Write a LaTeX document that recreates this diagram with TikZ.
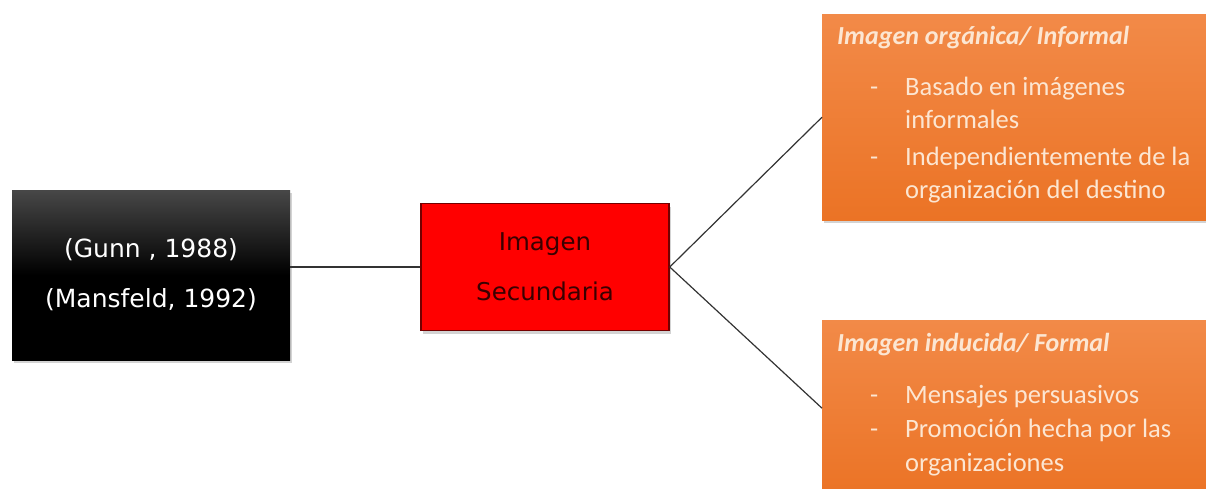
\documentclass[tikz,border=0pt]{standalone}
\usepackage{fontspec}
\setmainfont{Carlito}
\newfontfamily\handfont{DejaVu Sans}
\usetikzlibrary{positioning, shadows}

\definecolor{orangetop}{HTML}{F28A48}
\definecolor{orangebot}{HTML}{EB7325}
\definecolor{creamtext}{HTML}{FCE6D2}
\definecolor{redtext}{HTML}{3A0000}

\begin{document}
\begin{tikzpicture}[x=1pt, y=-1pt,
  shadowed/.style={drop shadow={opacity=.35, shadow xshift=2pt, shadow yshift=-3pt}},
  blackbox/.style={shadowed, rectangle, top color=black!72, bottom color=black, middle color=black,
    minimum width=278pt, minimum height=170pt, text=white, align=center,
    font=\handfont\fontsize{25}{50}\selectfont},
  redbox/.style={shadowed, rectangle, fill=red, draw=red!45!black, line width=1.5pt,
    minimum width=248pt, minimum height=127pt, text=redtext, align=center,
    font=\handfont\fontsize{24.5}{50}\selectfont},
  orangebox/.style={shadowed, rectangle, top color=orangetop, bottom color=orangebot,
    minimum width=400pt, anchor=north west, inner sep=0pt},
  boxtitle/.style={anchor=base west, inner sep=0pt, text=creamtext,
    font=\fontsize{26}{30}\selectfont\bfseries\itshape},
  boxline/.style={anchor=base west, inner sep=0pt, text=creamtext,
    font=\fontsize{26.5}{32}\selectfont},
  link/.style={draw=black!80, line width=1.2pt}]

  \useasboundingbox (0,0) rectangle (1206,488);
  \clip (0,0) rectangle (1206,488);

  % left and middle boxes
  \node[blackbox] (refs) at (151,275) {(Gunn , 1988)\\(Mansfeld, 1992)};
  \node[redbox] (sec) at (545,267) {Imagen\\Secundaria};

  % right boxes
  \node[orangebox, minimum height=206pt] (org) at (822,14) {};
  \node[orangebox, minimum height=176pt] (ind) at (822,320) {};

  \node[boxtitle] (orgtitle) at (837,44) {Imagen orgánica/ Informal};
  \foreach \yy/\txt [count=\i] in {95/Basado en imágenes, 128/informales,
      165/Independientemente de la, 198/organización del destino}
    \node[boxline] (org-\i) at (905,\yy) {\txt};
  \node[boxline] (orgdash-1) at (870,95) {-};
  \node[boxline] (orgdash-2) at (870,165) {-};

  \node[boxtitle] (indtitle) at (837,351) {Imagen inducida/ Formal};
  \foreach \yy/\txt [count=\i] in {403/Mensajes persuasivos,
      437/Promoción hecha por las, 471/organizaciones}
    \node[boxline] (ind-\i) at (905,\yy) {\txt};
  \node[boxline] (inddash-1) at (870,403) {-};
  \node[boxline] (inddash-2) at (870,437) {-};

  % connectors
  \draw[link] (sec.west -| refs.east) -- (sec.west);
  \draw[link] (sec.east) -- (org.west);
  \draw[link] (sec.east) -- (ind.west);
\end{tikzpicture}
\end{document}
